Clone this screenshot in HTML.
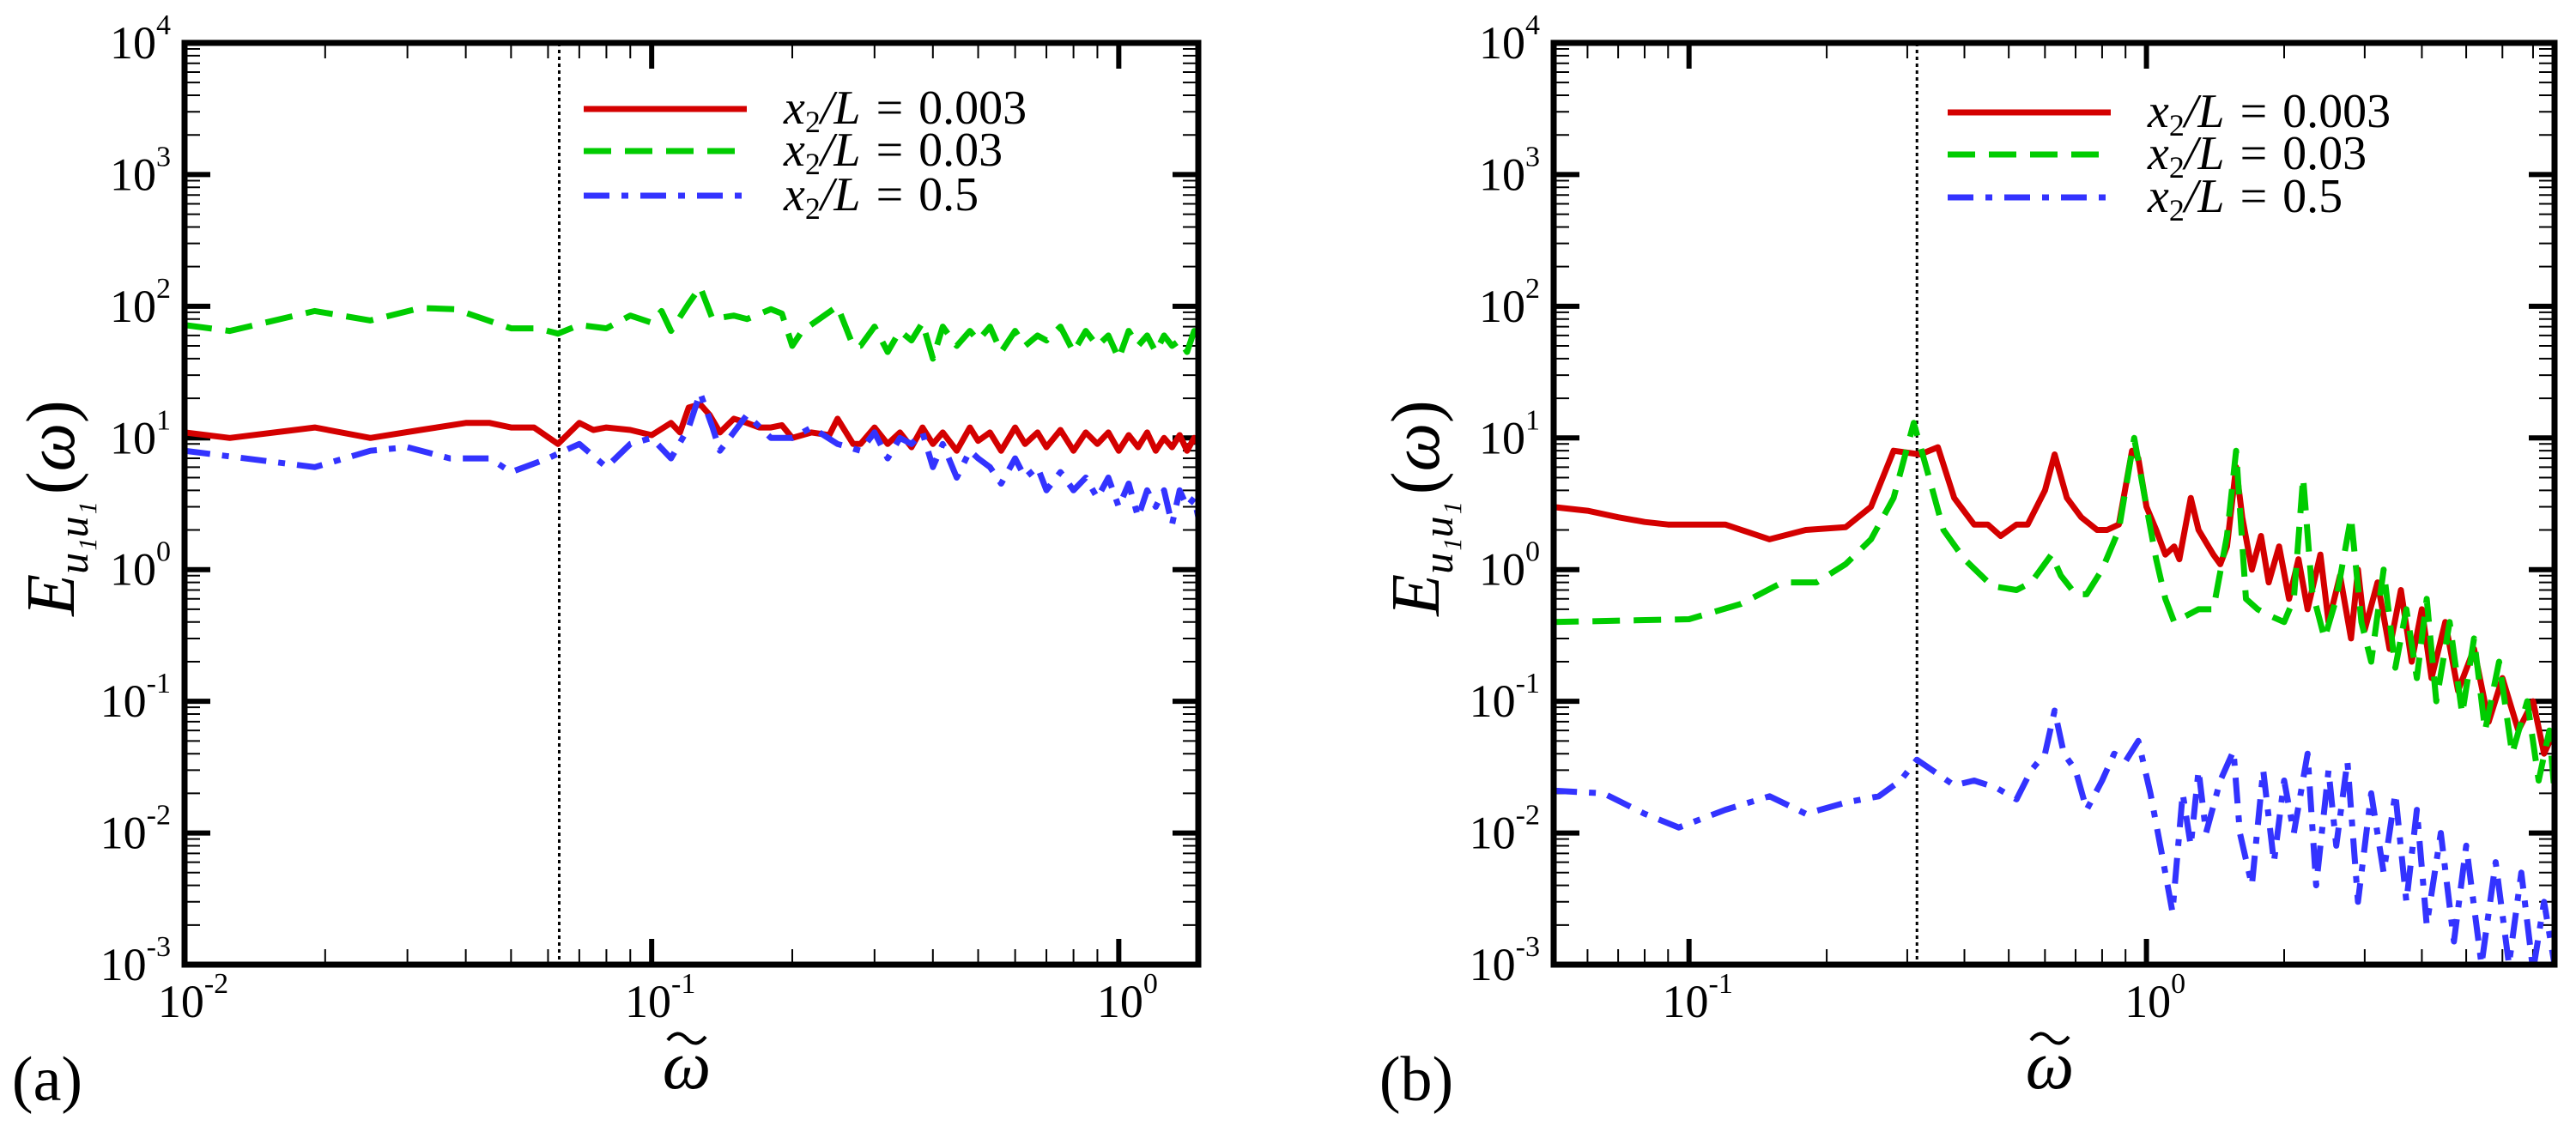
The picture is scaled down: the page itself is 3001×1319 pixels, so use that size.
<!DOCTYPE html>
<html><head><meta charset="utf-8">
<style>
html,body{margin:0;padding:0;background:#fff;}
svg{display:block;font-family:"Liberation Serif","DejaVu Serif",serif;}
svg text{font-family:"Liberation Serif","DejaVu Serif",serif;fill:#000;}
</style></head>
<body>
<svg id="chart" width="3001" height="1319" viewBox="0 0 3001 1319" xmlns="http://www.w3.org/2000/svg" font-family="Liberation Serif, DejaVu Serif, serif"></svg>
<script>
// ---------- Panel (a) data ----------
const aRedX = [0.01,0.0125,0.019,0.025,0.032,0.04,0.045,0.05,0.056,0.063,0.07,0.075,0.08,0.09,0.1,0.11,0.115,0.12,0.127,0.133,0.14,0.15,0.16,0.17,0.18,0.19,0.2,0.22,0.24,0.25,0.27,
 0.28,0.3,0.32,0.34,0.36,0.38,0.4,0.42,0.45,0.48,0.5,0.53,0.56,0.6,0.63,0.67,0.7,0.75,0.8,0.85,0.9,0.95,1.0,1.05,1.1,1.15,1.2,1.25,1.3,1.35,1.4,1.45,1.48];
const aRedY = [11,10,12,10,11.5,13,13,12,12,9,13,11.5,12,11.5,10.5,13,11,17,18,15,11,14,13,12,12,12.5,10,11,10.5,14,9,
 9,12,9,11,8.5,12,9,11,8,12,9.5,11,8,12,9,11,8.5,11.5,8,11,9,11,8,10.5,8.5,11,8,10,8.5,10.5,8,10,9];
const aGreenX = [0.01,0.0125,0.019,0.025,0.032,0.038,0.05,0.057,0.063,0.07,0.08,0.09,0.1,0.105,0.11,0.12,0.127,0.135,0.15,0.16,0.18,0.19,0.2,0.21,0.25,0.27,
 0.28,0.3,0.32,0.34,0.36,0.38,0.4,0.42,0.45,0.48,0.5,0.53,0.56,0.6,0.63,0.67,0.7,0.75,0.8,0.85,0.9,0.95,1.0,1.05,1.1,1.15,1.2,1.25,1.3,1.35,1.4,1.45,1.48];
const aGreenY = [72,65,92,78,97,95,68,68,62,72,68,85,75,92,65,105,140,80,85,80,95,88,50,65,100,50,
 50,70,45,65,55,75,40,70,50,65,55,70,45,65,50,60,55,70,45,65,50,60,40,65,50,60,45,60,50,55,45,65,55];
const aBlueX = [0.01,0.019,0.025,0.03,0.037,0.045,0.05,0.06,0.065,0.07,0.08,0.09,0.1,0.11,0.12,0.127,0.135,0.14,0.16,0.18,0.2,0.22,0.25,
 0.28,0.3,0.32,0.34,0.36,0.38,0.4,0.42,0.45,0.48,0.5,0.53,0.56,0.6,0.63,0.67,0.7,0.75,0.8,0.85,0.9,0.95,1.0,1.05,1.1,1.15,1.2,1.25,1.3,1.35,1.4,1.45,1.48];
const aBlueY = [8,6,8,8.5,7,7,5.5,7,8,9,6,9,10,7,12,22,12,8,15,10,10,12,9,
 8,11,7,10,9,11,6,9,5,8,7,6,4.5,7,5,6,4,5.5,4,5,3.5,5,3,4.5,2.5,4,3,4,2.2,4,3,3.5,2.5];

// ---------- Panel (b) data ----------
const bRedX = [0.05,0.06,0.07,0.08,0.09,0.12,0.15,0.18,0.22,0.25,0.28,0.32,0.35,0.38,0.42,0.45,0.48,0.52,0.55,0.6,0.63,0.67,0.72,0.78,0.82,0.87,0.93,0.96,1.0,1.05,1.1,1.15,1.18,1.25,1.3,1.4,1.45,1.5,1.57,1.62,1.7,1.78,1.85,1.95,2.05,2.15,2.25,2.4,2.5,2.65,2.8,2.9,3.0,3.2,3.4,3.6,3.8,4.0,4.2,4.5,4.8,5.2,5.6,6.0,6.5,7.0,7.4,7.8];
const bRedY = [3,2.8,2.5,2.3,2.2,2.2,1.7,2,2.1,3,8,7.5,8.5,3.5,2.2,2.2,1.8,2.2,2.2,4,7.5,3.5,2.5,2,2,2.2,8,7,3,2,1.3,1.5,1.2,3.5,2,1.3,1.1,1.5,6,2.5,1,1.8,0.8,1.5,0.6,1.2,0.5,1.3,0.4,0.9,0.3,1.0,0.35,0.8,0.25,0.7,0.2,0.5,0.15,0.4,0.12,0.25,0.07,0.15,0.06,0.1,0.04,0.06];
const bGreenX = [0.05,0.1,0.13,0.16,0.19,0.22,0.25,0.28,0.31,0.33,0.36,0.4,0.46,0.52,0.56,0.62,0.65,0.7,0.74,0.8,0.87,0.94,1.0,1.05,1.1,1.15,1.3,1.4,1.5,1.57,1.65,1.75,1.85,2.0,2.1,2.2,2.3,2.45,2.6,2.8,2.95,3.1,3.3,3.5,3.7,3.9,4.1,4.3,4.6,4.9,5.2,5.5,5.9,6.3,6.8,7.2,7.6,7.8];
const bGreenY = [0.4,0.42,0.55,0.8,0.8,1.1,1.7,3.5,13,6,2,1.2,0.75,0.7,0.8,1.3,0.9,0.65,0.65,1,2,10,3,1.2,0.6,0.4,0.5,0.5,1.8,8,0.6,0.5,0.45,0.4,0.6,5,0.7,0.3,0.6,2.5,0.4,0.2,1.0,0.18,0.5,0.15,0.6,0.1,0.4,0.08,0.3,0.06,0.2,0.04,0.1,0.025,0.06,0.02];
const bBlueX = [0.05,0.065,0.08,0.095,0.12,0.15,0.18,0.22,0.26,0.29,0.315,0.35,0.38,0.42,0.47,0.52,0.56,0.6,0.63,0.66,0.7,0.74,0.8,0.85,0.9,0.96,1.02,1.08,1.14,1.2,1.25,1.3,1.35,1.45,1.55,1.6,1.7,1.8,1.9,2.0,2.1,2.25,2.35,2.5,2.6,2.75,2.9,3.1,3.3,3.5,3.7,3.9,4.1,4.4,4.7,5.0,5.4,5.8,6.2,6.6,7.0,7.4,7.8];
const bBlueY = [0.021,0.02,0.014,0.011,0.015,0.019,0.014,0.017,0.019,0.025,0.036,0.028,0.023,0.025,0.022,0.018,0.03,0.04,0.085,0.04,0.03,0.015,0.025,0.04,0.035,0.05,0.02,0.007,0.0025,0.02,0.008,0.03,0.01,0.025,0.042,0.01,0.004,0.03,0.006,0.025,0.01,0.04,0.004,0.03,0.008,0.035,0.003,0.02,0.005,0.02,0.003,0.015,0.002,0.01,0.0015,0.008,0.001,0.006,0.001,0.005,0.0009,0.003,0.001];

const yTickExps = [-3,-2,-1,0,1,2,3,4];
const legendValues = ["0.003","0.03","0.5"];

const NS = "http://www.w3.org/2000/svg";
const svg = document.getElementById("chart");
function el(tag, attrs, parent){
  const e = document.createElementNS(NS, tag);
  for (const k in attrs) e.setAttribute(k, attrs[k]);
  (parent||svg).appendChild(e);
  return e;
}
function makeScale(d0,d1,r0,r1){
  const l0=Math.log10(d0), l1=Math.log10(d1);
  return v => r0 + (Math.log10(v)-l0)/(l1-l0)*(r1-r0);
}
const FF = "Liberation Serif, DejaVu Serif, serif";

const panels = [
  {id:"a", L:215, R:1396, T:50, B:1124, xmin:0.01, xmax:1.48, xTickExps:[-2,-1,0], vline:0.0634,
   series:[[aRedX,aRedY],[aGreenX,aGreenY],[aBlueX,aBlueY]],
   legX:680, legY:[127,176,228], ylabX:62, xlabX:800, tagX:55},
  {id:"b", L:1810, R:2976, T:50, B:1124, xmin:0.0506, xmax:7.8, xTickExps:[-1,0], vline:0.315,
   series:[[bRedX,bRedY],[bGreenX,bGreenY],[bBlueX,bBlueY]],
   legX:2269, legY:[131,180,230], ylabX:1652, xlabX:2388, tagX:1650}
];
const colors = ["#d40000","#00cc00","#3333ff"];
const dashes = ["none","32 16","30 14 8 14"];
const seriesNames = ["x2-0.003","x2-0.03","x2-0.5"];

panels.forEach(p=>{
  const g = el("g",{"font-family":FF});
  
  
  const xs = makeScale(p.xmin,p.xmax,p.L,p.R);
  const ys = makeScale(1e-3,1e4,p.B,p.T);
  const clipId = "clip"+p.id;
  const cp = el("clipPath",{id:clipId},g);
  el("rect",{x:p.L,y:p.T,width:p.R-p.L,height:p.B-p.T},cp);

  yTickExps.forEach(e=>{
    const y = ys(Math.pow(10,e));
    [[p.L,1],[p.R,-1]].forEach(([x0,s])=>{
      const t = el("line",{x1:x0,x2:x0+s*30,y1:y,y2:y,stroke:"#000","stroke-width":6},g);
      
      
      if(e<4) for(let m=2;m<=9;m++){
        const ym = ys(m*Math.pow(10,e));
        const mt = el("line",{x1:x0,x2:x0+s*18,y1:ym,y2:ym,stroke:"#000","stroke-width":2},g);
        
        
      }
    });
    const lab = el("text",{x:p.L-16,y:y+18,"font-size":54,"text-anchor":"end","font-family":FF},g);
    lab.textContent = "10";
    const sup = el("tspan",{"font-size":34,dy:-28},lab);
    sup.textContent = String(e);
    
    
  });
  for(let e=-3;e<=1;e++){
    for(let m=1;m<=9;m++){
      const v = m*Math.pow(10,e);
      if(v<p.xmin*0.999||v>p.xmax) continue;
      const x = xs(v);
      const maj = m===1;
      [[p.B,-1],[p.T,1]].forEach(([y0,s])=>{
        const t = el("line",{x1:x,x2:x,y1:y0,y2:y0+s*(maj?30:18),stroke:"#000","stroke-width":maj?6:2},g);
        
        
      });
    }
  }
  p.xTickExps.forEach(e=>{
    const x = xs(Math.pow(10,e));
    const lab = el("text",{x:x+10,y:1185,"font-size":54,"text-anchor":"middle","font-family":FF},g);
    lab.textContent = "10";
    const sup = el("tspan",{"font-size":34,dy:-28},lab);
    sup.textContent = String(e);
    
    
  });

  const vx = xs(p.vline);
  const vl = el("line",{x1:vx,x2:vx,y1:p.T,y2:p.B,stroke:"#000","stroke-width":3,"stroke-dasharray":"4 4"},g);
  
  

  p.series.forEach((s,i)=>{
    const pts = s[0].map((xv,k)=>xs(xv).toFixed(1)+","+ys(s[1][k]).toFixed(1)).join(" ");
    const pl = el("polyline",{points:pts,fill:"none",stroke:colors[i],"stroke-width":7,"stroke-linejoin":"round","stroke-dasharray":dashes[i],"clip-path":"url(#"+clipId+")"},g);
    
    
  });

  const fr = el("rect",{x:p.L,y:p.T,width:p.R-p.L,height:p.B-p.T,fill:"none",stroke:"#000","stroke-width":7},g);
  
  

  p.legY.forEach((ly,i)=>{
    const ln = el("line",{x1:p.legX,x2:p.legX+190,y1:ly,y2:ly,stroke:colors[i],"stroke-width":7,"stroke-dasharray":dashes[i]},g);
    
    
    const t = el("text",{x:p.legX+233,y:ly+17,"font-size":56,"font-family":FF},g);
    
    
    const a = el("tspan",{"font-style":"italic"},t); a.textContent="x";
    const b = el("tspan",{"font-size":36,dy:10},t); b.textContent="2";
    const c = el("tspan",{dy:-10,"font-style":"italic"},t); c.textContent="/L";
    const d = el("tspan",{dx:18},t); d.textContent="=";
    const f = el("tspan",{dx:18},t); f.textContent=legendValues[i];
  });

  const yt = el("text",{x:0,y:0,"font-size":80,"text-anchor":"middle","font-family":FF,transform:"translate("+(p.ylabX+24)+",592) rotate(-90)"},g);
  
  
  const e1 = el("tspan",{"font-style":"italic"},yt); e1.textContent="E";
  const e2 = el("tspan",{"font-size":50,dy:16,"font-style":"italic"},yt); e2.textContent="u₁u₁";
  const e3 = el("tspan",{dy:-16,dx:8},yt); e3.textContent="(";
  const e4 = el("tspan",{"font-style":"italic"},yt); e4.textContent="ω";
  const e5 = el("tspan",{},yt); e5.textContent=")";

  const xt = el("text",{x:p.xlabX,y:1268,"font-size":80,"text-anchor":"middle","font-style":"italic","font-family":FF},g);
  xt.textContent = "ω";
  
  
  const tl = el("path",{d:"M"+(p.xlabX-22)+",1212 q11,-14 22,-2 t22,-2",fill:"none",stroke:"#000","stroke-width":4},g);
  
  

  const tag = el("text",{x:p.tagX,y:1282,"font-size":74,"text-anchor":"middle","font-family":FF},g);
  tag.textContent = "("+p.id+")";
  
  
});
</script>
</body></html>
